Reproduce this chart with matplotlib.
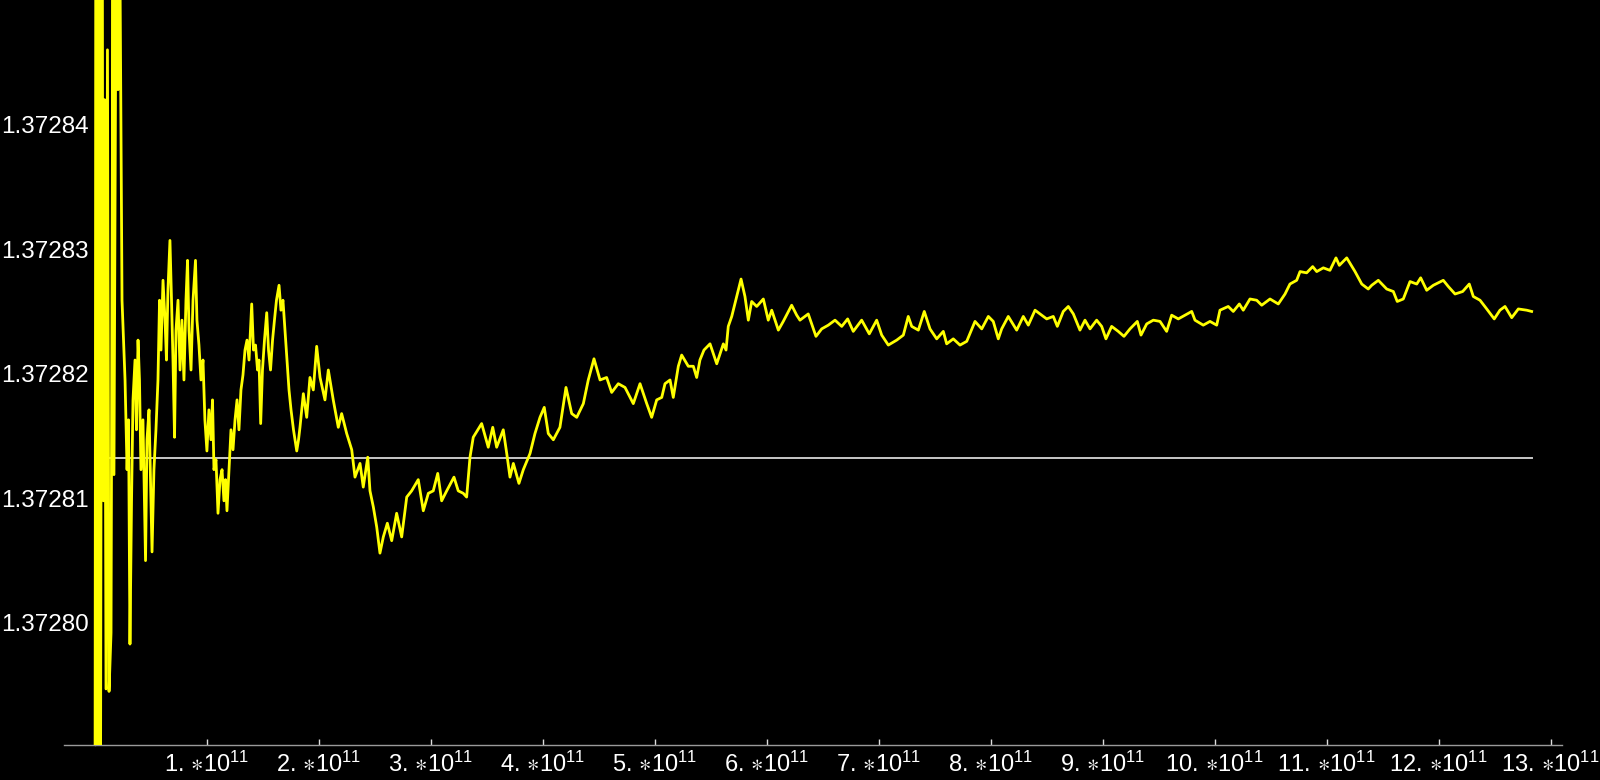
import numpy as np
import matplotlib
matplotlib.use("Agg")
import matplotlib.pyplot as plt
from matplotlib.ticker import FixedLocator, FixedFormatter

plt.rcParams['font.family'] = ['Liberation Sans', 'DejaVu Sans']
plt.rcParams['mathtext.fontset'] = 'custom'
plt.rcParams['mathtext.rm'] = 'Liberation Sans'
plt.rcParams['mathtext.it'] = 'Liberation Sans'

# x in units of 1e11
x_e11 = [
    0.000, 0.012, 0.025, 0.038, 0.052, 0.065, 0.079, 0.088, 0.101, 0.114,
    0.128, 0.146, 0.163, 0.172, 0.190, 0.208, 0.226, 0.244, 0.271, 0.289,
    0.302, 0.315, 0.329, 0.342, 0.360, 0.373, 0.387, 0.400, 0.413, 0.431,
    0.454, 0.467, 0.485, 0.498, 0.512, 0.529, 0.547, 0.565, 0.579, 0.592,
    0.610, 0.628, 0.641, 0.654, 0.672, 0.686, 0.699, 0.713, 0.726, 0.744,
    0.762, 0.779, 0.797, 0.815, 0.829, 0.842, 0.860, 0.878, 0.900, 0.913,
    0.931, 0.949, 0.967, 0.984, 1.002, 1.020, 1.038, 1.052, 1.065, 1.083,
    1.101, 1.119, 1.137, 1.154, 1.168, 1.181, 1.199, 1.217, 1.235, 1.253,
    1.271, 1.288, 1.306, 1.324, 1.342, 1.360, 1.378, 1.402, 1.418, 1.436,
    1.454, 1.467, 1.482, 1.498, 1.516, 1.536, 1.552, 1.570, 1.588, 1.605,
    1.623, 1.646, 1.663, 1.681, 1.699, 1.717, 1.735, 1.753, 1.775, 1.804,
    1.820,
    1.833, 1.863, 1.893, 1.922, 1.952, 1.982, 2.012, 2.056, 2.086, 2.130,
    2.175, 2.205, 2.250, 2.295, 2.324, 2.369, 2.398, 2.438, 2.458, 2.488,
    2.518, 2.547, 2.577, 2.613, 2.652, 2.696, 2.741, 2.786, 2.830, 2.889,
    2.934, 2.979, 3.023, 3.063, 3.098, 3.143, 3.208, 3.246, 3.291, 3.321,
    3.351, 3.380, 3.455, 3.514, 3.554, 3.589, 3.648, 3.679, 3.708, 3.738,
    3.788, 3.827, 3.887, 3.931, 3.976, 4.014, 4.050, 4.095, 4.154,
    4.208, 4.259, 4.304, 4.363, 4.407, 4.458, 4.512, 4.571, 4.616, 4.675,
    4.735, 4.809, 4.869, 4.929, 4.973, 5.018, 5.063, 5.092, 5.137, 5.166,
    5.211, 5.241, 5.300, 5.345, 5.375, 5.404, 5.440, 5.494, 5.554, 5.613,
    5.637, 5.657, 5.688, 5.732, 5.771, 5.806, 5.836, 5.866, 5.911, 5.970,
    6.014, 6.045, 6.104, 6.148, 6.223, 6.268,
    6.297, 6.371, 6.440, 6.491, 6.550, 6.610, 6.670, 6.723, 6.773, 6.848,
    6.916, 6.982, 7.027, 7.086, 7.161, 7.220, 7.264, 7.295, 7.354, 7.407,
    7.458, 7.518, 7.577, 7.607, 7.666, 7.726, 7.786, 7.860, 7.920, 7.979,
    8.023, 8.068, 8.098, 8.157, 8.232, 8.291, 8.336, 8.396, 8.440,
    8.500, 8.559, 8.595, 8.648, 8.693, 8.738, 8.797, 8.842, 8.887, 8.946,
    8.991, 9.029, 9.080, 9.139, 9.190, 9.244, 9.309, 9.342, 9.393, 9.452,
    9.512, 9.571, 9.616, 9.675, 9.735, 9.795, 9.824, 9.898, 9.958, 10.018,
    10.047, 10.121, 10.166, 10.220, 10.255, 10.315, 10.375, 10.420, 10.494, 10.568,
    10.628, 10.672,
    10.732, 10.762, 10.821, 10.875, 10.911, 10.970, 11.029, 11.083, 11.113, 11.179,
    11.253, 11.313, 11.371, 11.402, 11.461, 11.536, 11.595, 11.630, 11.684, 11.744,
    11.804, 11.839, 11.893, 11.952, 12.041, 12.086, 12.146, 12.214, 12.273, 12.309,
    12.369, 12.429, 12.496, 12.547, 12.592, 12.652, 12.711, 12.786, 12.830,
]

y_vals = [
    1.3727536, 1.3728741, 1.3727777, 1.3728661, 1.3727857, 1.3728580, 1.3728098, 1.3728420, 1.3727947, 1.3728460,
    1.3727945, 1.3727992, 1.3728540, 1.3728119, 1.3728516, 1.3728428, 1.3728524, 1.3728259, 1.3728195, 1.3728123,
    1.3728163, 1.3727983, 1.3728098, 1.3728179, 1.3728211, 1.3728155, 1.3728227, 1.3728195, 1.3728123, 1.3728163,
    1.3728050, 1.3728147, 1.3728171, 1.3728115, 1.3728057, 1.3728123, 1.3728155, 1.3728195, 1.3728259, 1.3728219,
    1.3728275, 1.3728243, 1.3728211, 1.3728267, 1.3728307, 1.3728259, 1.3728211, 1.3728149, 1.3728235, 1.3728259,
    1.3728203, 1.3728243, 1.3728195, 1.3728259, 1.3728291, 1.3728235, 1.3728203, 1.3728259, 1.3728291, 1.3728243,
    1.3728223, 1.3728195, 1.3728211, 1.3728163, 1.3728138, 1.3728171, 1.3728147, 1.3728179, 1.3728123, 1.3728131,
    1.3728088, 1.3728115, 1.3728123, 1.3728098, 1.3728115, 1.3728090, 1.3728123, 1.3728155, 1.3728139, 1.3728163,
    1.3728179, 1.3728155, 1.3728187, 1.3728199, 1.3728219, 1.3728227, 1.3728211, 1.3728256, 1.3728219, 1.3728223,
    1.3728203, 1.3728211, 1.3728160, 1.3728203, 1.3728227, 1.3728249, 1.3728219, 1.3728203, 1.3728227, 1.3728243,
    1.3728259, 1.3728271, 1.3728251, 1.3728259, 1.3728235, 1.3728211, 1.3728187, 1.3728171, 1.3728155, 1.3728138,
    1.3728147,
    1.3728157, 1.3728184, 1.3728165, 1.3728197, 1.3728187, 1.3728222, 1.3728197, 1.3728179, 1.3728203, 1.3728179,
    1.3728157, 1.3728168, 1.3728152, 1.3728139, 1.3728117, 1.3728128, 1.3728109, 1.3728133, 1.3728106, 1.3728093,
    1.3728077, 1.3728056, 1.3728069, 1.3728080, 1.3728066, 1.3728088, 1.3728069, 1.3728101, 1.3728106, 1.3728115,
    1.3728090, 1.3728104, 1.3728106, 1.3728120, 1.3728098, 1.3728106, 1.3728117, 1.3728106, 1.3728104, 1.3728101,
    1.3728133, 1.3728149, 1.3728160, 1.3728141, 1.3728157, 1.3728141, 1.3728155, 1.3728136, 1.3728117, 1.3728128,
    1.3728112, 1.3728123, 1.3728136, 1.3728152, 1.3728165, 1.3728173, 1.3728152, 1.3728147, 1.3728157,
    1.3728189, 1.3728168, 1.3728165, 1.3728176, 1.3728195, 1.3728212, 1.3728195, 1.3728197, 1.3728185, 1.3728192,
    1.3728189, 1.3728176, 1.3728192, 1.3728176, 1.3728165, 1.3728179, 1.3728181, 1.3728192, 1.3728195, 1.3728181,
    1.3728206, 1.3728215, 1.3728206, 1.3728206, 1.3728197, 1.3728211, 1.3728219, 1.3728224, 1.3728208, 1.3728224,
    1.3728219, 1.3728238, 1.3728246, 1.3728262, 1.3728276, 1.3728262, 1.3728243, 1.3728258, 1.3728254, 1.3728260,
    1.3728243, 1.3728251, 1.3728235, 1.3728242, 1.3728255, 1.3728247,
    1.3728243, 1.3728248, 1.3728230, 1.3728236, 1.3728239, 1.3728243, 1.3728238, 1.3728244, 1.3728234, 1.3728243,
    1.3728232, 1.3728243, 1.3728231, 1.3728223, 1.3728227, 1.3728231, 1.3728246, 1.3728238, 1.3728235, 1.3728250,
    1.3728236, 1.3728228, 1.3728234, 1.3728224, 1.3728228, 1.3728223, 1.3728226, 1.3728242, 1.3728236, 1.3728246,
    1.3728242, 1.3728228, 1.3728236, 1.3728246, 1.3728235, 1.3728246, 1.3728239, 1.3728251, 1.3728248,
    1.3728244, 1.3728246, 1.3728238, 1.3728250, 1.3728254, 1.3728248, 1.3728235, 1.3728243, 1.3728236, 1.3728243,
    1.3728238, 1.3728228, 1.3728238, 1.3728234, 1.3728230, 1.3728236, 1.3728242, 1.3728231, 1.3728240, 1.3728243,
    1.3728242, 1.3728234, 1.3728247, 1.3728244, 1.3728247, 1.3728250, 1.3728243, 1.3728239, 1.3728242, 1.3728239,
    1.3728251, 1.3728254, 1.3728250, 1.3728256, 1.3728251, 1.3728260, 1.3728259, 1.3728255, 1.3728260, 1.3728256,
    1.3728264, 1.3728272,
    1.3728275, 1.3728282, 1.3728281, 1.3728286, 1.3728282, 1.3728285, 1.3728283, 1.3728293, 1.3728287, 1.3728293,
    1.3728282, 1.3728272, 1.3728268, 1.3728271, 1.3728275, 1.3728268, 1.3728266, 1.3728258, 1.3728260, 1.3728274,
    1.3728272, 1.3728277, 1.3728267, 1.3728271, 1.3728275, 1.3728270, 1.3728264, 1.3728266, 1.3728272, 1.3728262,
    1.3728259, 1.3728252, 1.3728244, 1.3728251, 1.3728254, 1.3728245, 1.3728252, 1.3728251, 1.3728250,
]

ref_level = 1.3728132
y_ticks = [1.37280, 1.37281, 1.37282, 1.37283, 1.37284]
x_ticks = list(range(1, 14))

x = np.array(x_e11) * 1e11
y = np.array(y_vals)

fig = plt.figure(figsize=(16, 7.8), dpi=100, facecolor='black')
ax = fig.add_axes([0.04, 0.0449, 0.93625, 0.9551], facecolor='black')

ax.plot(x, y, color='#ffff00', lw=2.0, zorder=3)
ax.plot([0, x[-1]], [ref_level, ref_level], color='#c8c8c8', lw=1.4, zorder=2)

ax.set_xlim(-0.274e11, 13.101e11)
ax.set_ylim(1.3727902, 1.37285)

for s in ['top', 'right']:
    ax.spines[s].set_visible(False)
ax.spines['left'].set_position(('data', 0))
ax.spines['left'].set_color('#b0b0b0')
ax.spines['bottom'].set_color('#9a9a9a')
ax.spines['left'].set_linewidth(1.0)
ax.spines['bottom'].set_linewidth(1.0)

ax.yaxis.set_major_locator(FixedLocator(y_ticks))
ax.yaxis.set_major_formatter(FixedFormatter(['%.5f' % v for v in y_ticks]))
ax.xaxis.set_major_locator(FixedLocator([v * 1e11 for v in x_ticks]))
ax.xaxis.set_major_formatter(FixedFormatter(
    [r'$\mathregular{%d.\,{\ast}10^{11}}$' % v for v in x_ticks]))
ax.minorticks_off()

ax.tick_params(axis='both', direction='in', colors='#dddddd', labelcolor='white',
               length=4, width=1)
ax.tick_params(axis='y', pad=4, labelsize=17.5)
ax.tick_params(axis='x', pad=5, labelsize=17)

fig.savefig('out.png', dpi=100, facecolor='black')
